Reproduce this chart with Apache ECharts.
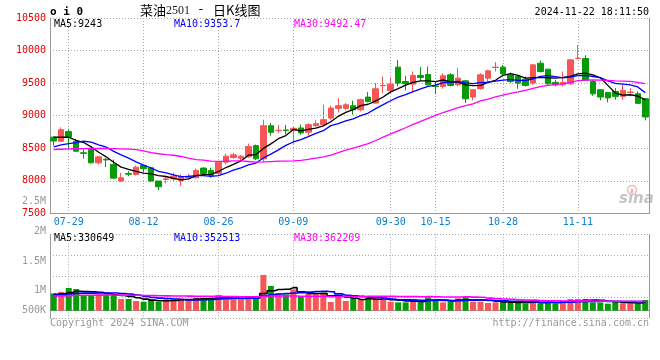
<!DOCTYPE html>
<html><head><meta charset="utf-8">
<script src="https://cdn.jsdelivr.net/npm/echarts@6/dist/echarts.min.js"></script>
<style>html,body{margin:0;padding:0;background:#fff}#c{width:660px;height:360px}</style>
</head><body><div id="c"></div>
<script>
// ---------------- data ----------------
const dates = ['07-25','07-26','07-29','07-30','07-31','08-01','08-02','08-05','08-06','08-07','08-08','08-09','08-12','08-13','08-14','08-15','08-16','08-19','08-20','08-21','08-22','08-23','08-26','08-27','08-28','08-29','08-30','09-02','09-03','09-04','09-05','09-06','09-09','09-10','09-11','09-12','09-13','09-18','09-19','09-20','09-23','09-24','09-25','09-26','09-27','09-30','10-08','10-09','10-10','10-11','10-14','10-15','10-16','10-17','10-18','10-21','10-22','10-23','10-24','10-25','10-28','10-29','10-30','10-31','11-01','11-04','11-05','11-06','11-07','11-08','11-11','11-12','11-13','11-14','11-15','11-18','11-19','11-20','11-21','11-22'];
const opens  = [8670,8607,8755,8607,8430,8480,8275,8330,8250,7995,8110,8097,8235,8199,7995,8020,8030,8000,8050,8046,8194,8158,8112,8286,8357,8347,8367,8540,8337,8846,8770,8780,8775,8811,8745,8846,8862,8964,9112,9112,9153,9091,9285,9193,9459,9382,9745,9525,9484,9617,9632,9454,9449,9627,9474,9535,9286,9413,9576,9740,9745,9627,9602,9561,9500,9806,9714,9510,9474,9490,9878,9878,9525,9398,9357,9372,9296,9357,9336,9260];
const closes = [8610,8785,8668,8454,8420,8275,8367,8320,8040,8046,8100,8209,8184,7995,7908,8030,8071,8061,8071,8158,8112,8082,8286,8377,8398,8377,8525,8337,8846,8745,8775,8770,8806,8734,8862,8877,8938,9117,9153,9168,9091,9245,9219,9413,9464,9484,9500,9490,9617,9586,9474,9449,9612,9464,9576,9260,9398,9627,9688,9745,9643,9525,9500,9464,9780,9678,9490,9474,9510,9857,9882,9546,9335,9286,9273,9296,9388,9362,9189,8980];
const lows   = [8540,8600,8480,8440,8340,8265,8250,8210,8030,7980,8070,8082,8133,7980,7857,7959,7995,7918,8020,8036,8097,8046,8100,8250,8337,8316,8352,8316,8286,8694,8735,8714,8571,8709,8694,8826,8847,8938,9050,9081,9015,9066,9204,9183,9346,9336,9449,9387,9372,9535,9464,9331,9413,9449,9449,9194,9235,9398,9510,9678,9602,9500,9413,9449,9474,9663,9474,9449,9449,9474,9867,9535,9306,9235,9204,9245,9245,9296,9183,8928];
const highs  = [8680,8821,8785,8643,8480,8490,8377,8350,8326,8122,8148,8235,8245,8214,7995,8071,8122,8097,8107,8189,8209,8199,8300,8418,8428,8398,8571,8556,8938,8887,8857,8857,8826,8862,8887,8928,9168,9153,9270,9193,9230,9260,9362,9500,9600,9591,9857,9612,9678,9745,9755,9525,9653,9653,9729,9550,9398,9653,9704,9821,9780,9663,9627,9602,9796,9847,9714,9550,9678,9867,10082,9929,9550,9398,9357,9423,9474,9423,9372,9270];
const volumes = [675000,729000,885000,846000,612000,612000,636000,636000,612000,456000,456000,378000,351000,417000,351000,441000,441000,480000,441000,480000,480000,480000,612000,441000,441000,441000,573000,519000,1392000,963000,675000,636000,831000,573000,651000,675000,651000,339000,573000,378000,480000,417000,480000,480000,417000,351000,324000,324000,456000,351000,519000,417000,324000,351000,480000,546000,351000,351000,300000,324000,378000,300000,324000,285000,378000,285000,351000,285000,378000,456000,456000,456000,324000,324000,273000,378000,285000,285000,285000,417000];
// sessions before the visible window (estimated, only used for the moving averages)
const priorCloses = [8664,8547,8363,8329,8244,8336,8349,8129,8135,8219,8418,8813,8774,8417,8449,8340,8630,8790,8877,8381,8480,8463,8300,8214,8403,8785,8668,8694,8583];
const priorVolumes = [520000,610000,480000,560000,590000,500000,530000,620000,540000,570000,510000,600000,560000,530000,580000,540000,560000,520000,590000,560000,560000,610000,580000,600000,585000,600000,650000,610000,650000];
const xTickLabels = ['07-29','08-12','08-26','09-09','09-30','10-15','10-28','11-11'];
const priceMin = 7500, priceMax = 10500, priceStep = 500;
const volTickLabels = ['2.5M','2M','1.5M','1M','500K'];
const priceLegend = ['MA5:9243','MA10:9353.7','MA30:9492.47'];
const volLegend = ['MA5:330649','MA10:352513','MA30:362209'];
const titleParts = ['菜油','2501','-','日K线图'];
const stamp = '2024-11-22 18:11:50';

// ---------------- helpers ----------------
function movingAvg(prior, vals, n){
  const all = prior.concat(vals);
  return vals.map((_, i) => {
    const end = prior.length + i; let s = 0;
    for (let k = end - n + 1; k <= end; k++) s += all[k];
    return +(s / n).toFixed(2);
  });
}
const UP = '#f65656', DOWN = '#079c07';
const MONO = '"DejaVu Sans Mono", "Liberation Mono", monospace';
const tickSet = new Set(xTickLabels);
const kData = dates.map((d, i) => [opens[i], closes[i], lows[i], highs[i]]);
const volData = volumes.map((v, i) => ({value: v, itemStyle: {color: closes[i] >= opens[i] ? UP : DOWN}}));
const dotted = {color: '#aaa', type: [1, 2], width: 1};
const axisGray = {color: '#9a9a9a', width: 1};

const chart = echarts.init(document.getElementById('c'), null, {renderer: 'canvas'});
const lineS = (name, data, color, xi, yi, w, step) => ({
  name, type: 'line', data, xAxisIndex: xi, yAxisIndex: yi, symbol: 'none', silent: true,
  step: step || false, lineStyle: {color, width: w}, z: 3
});
const txt = (x, y, text, fill, font, align) => ({
  type: 'text', x, y, silent: true,
  style: {text, fill, font: font || ('10px ' + MONO), align: align || 'left', verticalAlign: 'middle'}
});

const option = {
  animation: false,
  backgroundColor: '#fff',
  grid: [
    {left: 50, top: 18, width: 599, height: 195.3},
    {left: 50, top: 234.3, width: 599, height: 83.7}
  ],
  xAxis: [
    {type: 'category', gridIndex: 0, data: dates, boundaryGap: true,
     axisLine: {lineStyle: axisGray}, axisTick: {show: false},
     axisLabel: {interval: (i, v) => tickSet.has(v), color: '#0a7ed0', fontFamily: MONO, fontSize: 10, margin: 4},
     splitLine: {show: true, alignWithLabel: true, interval: (i, v) => tickSet.has(v), lineStyle: dotted}},
    {type: 'category', gridIndex: 1, data: dates, boundaryGap: true,
     axisLine: {lineStyle: axisGray}, axisTick: {show: false}, axisLabel: {show: false},
     splitLine: {show: true, alignWithLabel: true, interval: (i, v) => tickSet.has(v), lineStyle: dotted}}
  ],
  yAxis: [
    {type: 'value', gridIndex: 0, position: 'left', min: priceMin, max: priceMax, interval: priceStep,
     axisLine: {show: true, lineStyle: axisGray}, axisTick: {show: false},
     axisLabel: {color: '#e60000', fontFamily: MONO, fontSize: 10, margin: 4, padding: [0, 0, 4, 0],
                 formatter: v => String(v)},
     splitLine: {show: true, lineStyle: dotted}},
    {type: 'value', gridIndex: 0, position: 'right', min: 0, max: 1,
     axisLine: {show: true, lineStyle: axisGray}, axisTick: {show: false}, axisLabel: {show: false}, splitLine: {show: false}},
    {type: 'value', gridIndex: 1, position: 'left', min: -285000, max: 2980000,
     axisLine: {show: true, lineStyle: axisGray}, axisTick: {show: false}, axisLabel: {show: false}, splitLine: {show: false}},
    {type: 'value', gridIndex: 1, position: 'right', min: 0, max: 4, interval: 1,
     axisLine: {show: true, lineStyle: axisGray}, axisTick: {show: false}, axisLabel: {show: false},
     splitLine: {show: true, lineStyle: dotted}}
  ],
  series: [
    {name: 'K', type: 'candlestick', xAxisIndex: 0, yAxisIndex: 0, data: kData, barWidth: 6, silent: true,
     itemStyle: {color: UP, color0: DOWN, borderColor: UP, borderColor0: DOWN, borderWidth: 1}},
    lineS('MA5', movingAvg(priorCloses, closes, 5), '#000000', 0, 0, 1.3),
    lineS('MA10', movingAvg(priorCloses, closes, 10), '#0000ff', 0, 0, 1.3),
    lineS('MA30', movingAvg(priorCloses, closes, 30), '#ff00ff', 0, 0, 1.3),
    {name: 'VOL', type: 'bar', xAxisIndex: 1, yAxisIndex: 2, data: volData, barWidth: 6, silent: true},
    lineS('VMA5', movingAvg(priorVolumes, volumes, 5), '#000000', 1, 2, 1.6, 'middle'),
    lineS('VMA10', movingAvg(priorVolumes, volumes, 10), '#0000ff', 1, 2, 1.6, 'middle'),
    lineS('VMA30', movingAvg(priorVolumes, volumes, 30), '#ff00ff', 1, 2, 1.6, 'middle')
  ],
  graphic: [
    txt(50, 12, 'o i 0', '#000', 'bold 11px ' + MONO),
    txt(140, 10, titleParts[0], '#000', '13px "Noto Sans CJK SC"'),
    txt(166, 11, titleParts[1], '#222', '12px "Liberation Serif", serif'),
    txt(197, 10, titleParts[2], '#000', '13px ' + MONO),
    txt(213, 10, titleParts[3], '#000', '13px "Noto Sans CJK SC"'),
    txt(649, 12, stamp, '#000', '10px ' + MONO, 'right'),
    txt(54, 24, priceLegend[0], '#000000'),
    txt(174, 24, priceLegend[1], '#0000ff'),
    txt(294, 24, priceLegend[2], '#ff00ff'),
    txt(54, 238, volLegend[0], '#000000'),
    txt(174, 238, volLegend[1], '#0000ff'),
    txt(294, 238, volLegend[2], '#ff00ff'),
    txt(46, 201, volTickLabels[0], '#999', null, 'right'),
    txt(46, 231, volTickLabels[1], '#999', null, 'right'),
    txt(46, 261, volTickLabels[2], '#999', null, 'right'),
    txt(46, 290.7, volTickLabels[3], '#999', null, 'right'),
    txt(46, 310.7, volTickLabels[4], '#999', null, 'right'),
    txt(50, 323.5, 'Copyright 2024 SINA.COM', '#999'),
    txt(649, 323.5, 'http://finance.sina.com.cn', '#999', null, 'right'),
    {type: 'circle', silent: true, shape: {cx: 632, cy: 190, r: 4.5}, style: {fill: 'none', stroke: '#f2b4b4', lineWidth: 1.5}},
    {type: 'circle', silent: true, shape: {cx: 632, cy: 190, r: 1.5}, style: {fill: '#f2b4b4'}},
    txt(619, 199, 'sina', '#c4c4c4', 'italic bold 15px "DejaVu Sans"')
  ]
};
chart.setOption(option);
</script></body></html>
